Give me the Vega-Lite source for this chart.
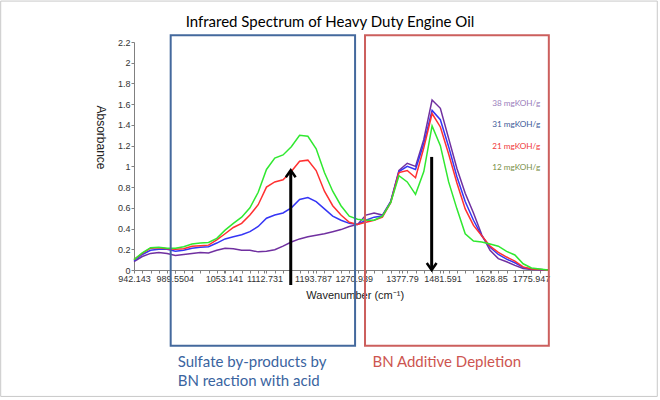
{
  "$schema": "https://vega.github.io/schema/vega-lite/v6.json",
  "width": 414,
  "height": 228,
  "autosize": {"type": "none"},
  "padding": {"left": 134, "top": 42, "right": 112, "bottom": 130},
  "background": "white",
  "title": {"text": "Infrared Spectrum of Heavy Duty Engine Oil", "font": "Lato", "fontSize": 15, "fontWeight": "normal", "color": "#000000", "anchor": "middle", "frame": "group", "dx": -11, "offset": -36, "baseline": "middle"},
  "config": {"view": {"stroke": null}, "axis": {"labelOverlap": false}},
  "layer": [
    {
      "data": {"values": [{"i": -16.1, "i2": 63.2, "a": 2.595, "a2": -1.22}]},
      "mark": {"type": "rect", "filled": false, "color": "#C8C8C8", "strokeWidth": 1},
      "encoding": {
        "x": {"field": "i", "type": "quantitative"},
        "x2": {"field": "i2"},
        "y": {"field": "a", "type": "quantitative"},
        "y2": {"field": "a2"}
      }
    },
    {
      "data": {"values": [
        {"i":0,"38":0.08,"31":0.09,"21":0.10,"12":0.10},
        {"i":1,"38":0.13,"31":0.15,"21":0.16,"12":0.165},
        {"i":2,"38":0.16,"31":0.19,"21":0.21,"12":0.215},
        {"i":3,"38":0.17,"31":0.20,"21":0.215,"12":0.22},
        {"i":4,"38":0.16,"31":0.20,"21":0.205,"12":0.21},
        {"i":5,"38":0.14,"31":0.18,"21":0.20,"12":0.21},
        {"i":6,"38":0.15,"31":0.19,"21":0.205,"12":0.225},
        {"i":7,"38":0.16,"31":0.21,"21":0.23,"12":0.25},
        {"i":8,"38":0.17,"31":0.22,"21":0.235,"12":0.26},
        {"i":9,"38":0.165,"31":0.225,"21":0.24,"12":0.265},
        {"i":10,"38":0.19,"31":0.26,"21":0.29,"12":0.305},
        {"i":11,"38":0.21,"31":0.30,"21":0.35,"12":0.385},
        {"i":12,"38":0.205,"31":0.32,"21":0.41,"12":0.45},
        {"i":13,"38":0.19,"31":0.34,"21":0.45,"12":0.51},
        {"i":14,"38":0.19,"31":0.37,"21":0.53,"12":0.60},
        {"i":15,"38":0.175,"31":0.42,"21":0.63,"12":0.75},
        {"i":16,"38":0.18,"31":0.50,"21":0.80,"12":0.97},
        {"i":17,"38":0.195,"31":0.53,"21":0.85,"12":1.08},
        {"i":18,"38":0.23,"31":0.55,"21":0.87,"12":1.11},
        {"i":19,"38":0.27,"31":0.60,"21":0.95,"12":1.19},
        {"i":20,"38":0.30,"31":0.68,"21":1.05,"12":1.30},
        {"i":21,"38":0.32,"31":0.70,"21":1.06,"12":1.29},
        {"i":22,"38":0.335,"31":0.66,"21":0.96,"12":1.17},
        {"i":23,"38":0.35,"31":0.59,"21":0.76,"12":0.94},
        {"i":24,"38":0.37,"31":0.52,"21":0.62,"12":0.76},
        {"i":25,"38":0.39,"31":0.48,"21":0.53,"12":0.62},
        {"i":26,"38":0.42,"31":0.45,"21":0.46,"12":0.52},
        {"i":27,"38":0.44,"31":0.44,"21":0.44,"12":0.49},
        {"i":28,"38":0.53,"31":0.48,"21":0.46,"12":0.48},
        {"i":29,"38":0.55,"31":0.51,"21":0.48,"12":0.48},
        {"i":30,"38":0.53,"31":0.52,"21":0.51,"12":0.52},
        {"i":31,"38":0.66,"31":0.66,"21":0.65,"12":0.65},
        {"i":32,"38":0.96,"31":0.95,"21":0.94,"12":0.91},
        {"i":33,"38":1.03,"31":1.00,"21":0.96,"12":0.85},
        {"i":34,"38":1.00,"31":0.97,"21":0.89,"12":0.73},
        {"i":35,"38":1.26,"31":1.22,"21":1.18,"12":0.95},
        {"i":36,"38":1.64,"31":1.54,"21":1.51,"12":1.39},
        {"i":37,"38":1.56,"31":1.45,"21":1.38,"12":1.20},
        {"i":38,"38":1.27,"31":1.19,"21":1.12,"12":0.85},
        {"i":39,"38":0.98,"31":0.90,"21":0.84,"12":0.59},
        {"i":40,"38":0.74,"31":0.66,"21":0.59,"12":0.35},
        {"i":41,"38":0.55,"31":0.48,"21":0.43,"12":0.28},
        {"i":42,"38":0.34,"31":0.33,"21":0.33,"12":0.27},
        {"i":43,"38":0.19,"31":0.22,"21":0.23,"12":0.25},
        {"i":44,"38":0.11,"31":0.15,"21":0.17,"12":0.23},
        {"i":45,"38":0.08,"31":0.105,"21":0.125,"12":0.18},
        {"i":46,"38":0.045,"31":0.07,"21":0.085,"12":0.145},
        {"i":47,"38":0.015,"31":0.025,"21":0.03,"12":0.06},
        {"i":48,"38":0.006,"31":0.01,"21":0.01,"12":0.02},
        {"i":49,"38":0.003,"31":0.005,"21":0.005,"12":0.01},
        {"i":50,"38":0,"31":0,"21":0,"12":0}
      ]},
      "transform": [{"fold": ["38", "31", "21", "12"], "as": ["oil", "a"]}],
      "mark": {"type": "line", "strokeWidth": 1.5},
      "encoding": {
        "x": {
          "field": "i", "type": "quantitative",
          "scale": {"domain": [0, 50], "nice": false, "zero": false},
          "axis": {
            "values": [0,1,2,3,4,5,6,7,8,9,10,11,12,13,14,15,16,17,18,19,20,21,22,23,24,25,26,27,28,29,30,31,32,33,34,35,36,37,38,39,40,41,42,43,44,45,46,47,48,49,50,4.92,10.87,15.76,21.62,26.53,32.37,37.26,43.12,47.95],
            "tickCount": 200,
            "labelExpr": "datum.value == 0 ? '942.143' : datum.value == 4.92 ? '989.5504' : datum.value == 10.87 ? '1053.141' : datum.value == 15.76 ? '1112.731' : datum.value == 21.62 ? '1193.787' : datum.value == 26.53 ? '1270.939' : datum.value == 32.37 ? '1377.79' : datum.value == 37.26 ? '1481.591' : datum.value == 43.12 ? '1628.85' : datum.value == 47.95 ? '1775.947' : ''",
            "labelOverlap": false,
            "labelFlush": false,
            "labelBound": false,
            "labelFont": "Liberation Sans",
            "labelFontSize": 9,
            "labelColor": "#333333",
            "labelPadding": 1,
            "tickSize": 3,
            "tickColor": "#808080",
            "domainColor": "#808080",
            "grid": false,
            "title": "Wavenumber (cm⁻¹)",
            "titleFont": "Liberation Sans",
            "titleFontSize": 11,
            "titleFontWeight": "normal",
            "titleColor": "#222222",
            "titleX": 220.7,
            "titleY": 25,
            "titleAlign": "center",
            "titleBaseline": "middle",
            "encode": {"ticks": {"update": {"opacity": {"signal": "datum.value % 1 == 0 ? 1 : 0"}}}}
          }
        },
        "y": {
          "field": "a", "type": "quantitative",
          "scale": {"domain": [0, 2.2], "nice": false, "zero": false},
          "axis": {
            "values": [0, 0.2, 0.4, 0.6, 0.8, 1, 1.2, 1.4, 1.6, 1.8, 2, 2.2],
            "tickCount": 50,
            "format": "~g",
            "labelOverlap": false,
            "labelFont": "Liberation Sans",
            "labelFontSize": 9,
            "labelColor": "#333333",
            "labelPadding": 1,
            "tickSize": 3,
            "tickColor": "#808080",
            "domainColor": "#808080",
            "grid": false,
            "title": "Absorbance",
            "titleFont": "Liberation Sans",
            "titleFontSize": 12,
            "titleFontWeight": "normal",
            "titleColor": "#222222",
            "titleAngle": 90,
            "titleX": -34,
            "titleY": 95,
            "titleAlign": "center",
            "titleBaseline": "middle"
          }
        },
        "color": {
          "field": "oil", "type": "nominal",
          "scale": {"domain": ["38", "31", "21", "12"], "range": ["#7030A0", "#3535F5", "#FF3030", "#30E830"]},
          "legend": {
            "title": null,
            "orient": "none",
            "legendX": 350,
            "legendY": 58,
            "symbolSize": 0,
            "symbolStrokeWidth": 0,
            "symbolOpacity": 0,
            "labelFont": "Lato",
            "labelFontSize": 8.2,
            "labelOffset": 0,
            "rowPadding": 12.3,
            "padding": 0,
            "labelExpr": "datum.label + ' mgKOH/g'",
            "encode": {"labels": {"update": {"fill": {"signal": "datum.value == '38' ? '#9A7EBB' : datum.value == '31' ? '#3D5B98' : datum.value == '21' ? '#F03A3A' : '#7A9049'"}}}}
          }
        }
      }
    },
    {
      "data": {"values": [{"i": 4.43, "i2": 26.7, "a": 2.264, "a2": -0.73}]},
      "mark": {"type": "rect", "filled": false, "color": "#44699D", "strokeWidth": 2},
      "encoding": {
        "x": {"field": "i", "type": "quantitative"},
        "x2": {"field": "i2"},
        "y": {"field": "a", "type": "quantitative"},
        "y2": {"field": "a2"}
      }
    },
    {
      "data": {"values": [{"i": 27.9, "i2": 50.1, "a": 2.264, "a2": -0.73}]},
      "mark": {"type": "rect", "filled": false, "color": "#CC5F5D", "strokeWidth": 2},
      "encoding": {
        "x": {"field": "i", "type": "quantitative"},
        "x2": {"field": "i2"},
        "y": {"field": "a", "type": "quantitative"},
        "y2": {"field": "a2"}
      }
    },
    {
      "data": {"values": [{"i": 18.93, "a": -0.145, "a2": 0.955}, {"i": 35.95, "a": 1.091, "a2": 0.01}]},
      "mark": {"type": "rule", "strokeWidth": 3, "color": "#000000"},
      "encoding": {
        "x": {"field": "i", "type": "quantitative"},
        "y": {"field": "a", "type": "quantitative"},
        "y2": {"field": "a2"}
      }
    },
    {
      "data": {"values": [{"i": 18.93, "a": 0.963, "dir": "up"}, {"i": 35.95, "a": 0, "dir": "down"}]},
      "mark": {"type": "point", "filled": false, "strokeWidth": 2.5, "color": "#000000", "opacity": 1, "size": 196, "strokeJoin": "miter"},
      "encoding": {
        "x": {"field": "i", "type": "quantitative"},
        "y": {"field": "a", "type": "quantitative"},
        "shape": {"field": "dir", "type": "nominal", "scale": {"domain": ["up", "down"], "range": ["M-0.7,1L0,0L0.7,1", "M-0.7,-1L0,0L0.7,-1"]}, "legend": null}
      }
    },
    {
      "data": {"values": [{"i": 5.28, "a": -0.886, "t": "Sulfate by-products by\nBN reaction with acid"}]},
      "mark": {"type": "text", "align": "left", "baseline": "middle", "font": "Lato", "fontSize": 15, "lineHeight": 19, "lineBreak": "\n", "color": "#3A64A0"},
      "encoding": {
        "x": {"field": "i", "type": "quantitative"},
        "y": {"field": "a", "type": "quantitative"},
        "text": {"field": "t"}
      }
    },
    {
      "data": {"values": [{"i": 28.8, "a": -0.886, "t": "BN Additive Depletion"}]},
      "mark": {"type": "text", "align": "left", "baseline": "middle", "font": "Lato", "fontSize": 15, "color": "#CD5550"},
      "encoding": {
        "x": {"field": "i", "type": "quantitative"},
        "y": {"field": "a", "type": "quantitative"},
        "text": {"field": "t"}
      }
    }
  ]
}
